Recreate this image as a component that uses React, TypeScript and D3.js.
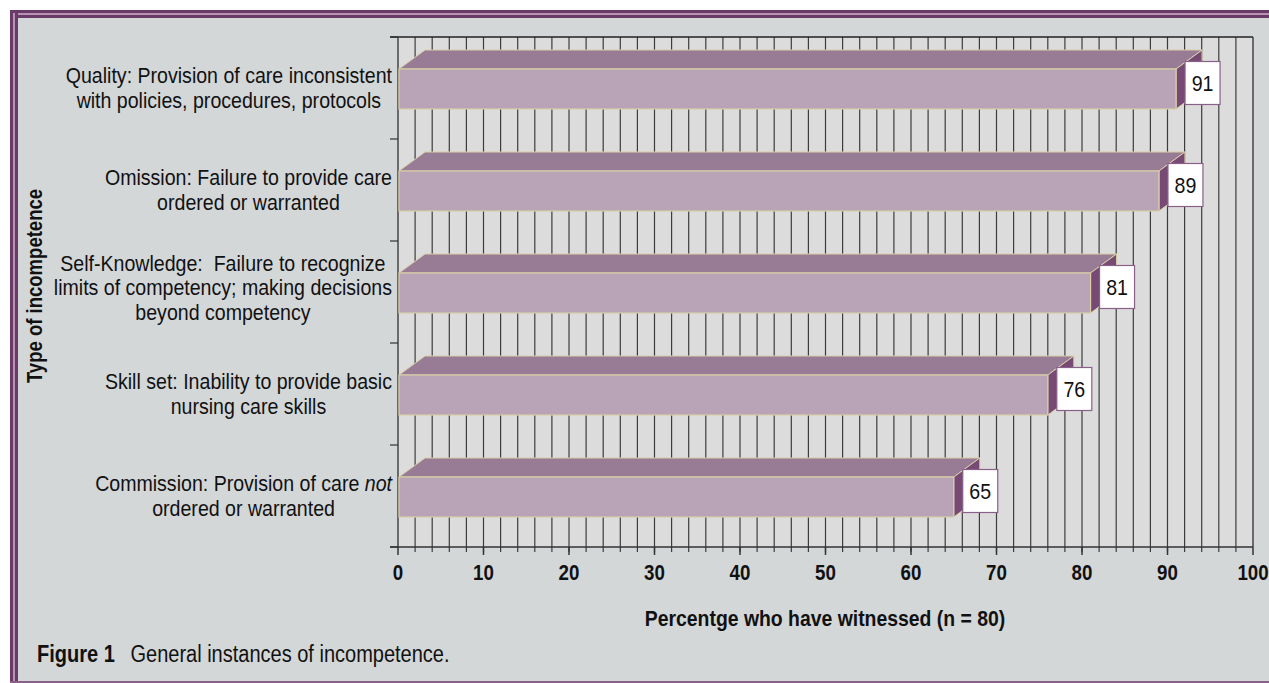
import React, { useEffect, useRef } from "react";
import * as d3 from "d3";

const categoryLines: string[][] = [
  ["Quality: Provision of care inconsistent", "with policies, procedures, protocols"],
  ["Omission: Failure to provide care", "ordered or warranted"],
  ["Self-Knowledge:  Failure to recognize", "limits of competency; making decisions", "beyond competency"],
  ["Skill set: Inability to provide basic", "nursing care skills"],
  ["Commission: Provision of care |not|", "ordered or warranted"],
];
const values: number[] = [91, 89, 81, 76, 65];
const xTicks: number[] = [0, 10, 20, 30, 40, 50, 60, 70, 80, 90, 100];
const gridValues: number[] = d3.range(2, 100, 2);

const W = 1269;
const H = 683;
const FONT = "'Liberation Sans', Arial, sans-serif";
const NARROW = 0.87;

type Sel = d3.Selection<any, unknown, null, undefined>;

function narrowText(parent: Sel, x: number, y: number, size: number, anchor: string, bold = false, rotate = 0) {
  const g = parent.append("g").attr("transform", `translate(${x},${y}) rotate(${rotate}) scale(${NARROW},1)`);
  const t = g.append("text").attr("x", 0).attr("y", 0)
    .attr("text-anchor", anchor).attr("font-family", FONT).attr("font-size", size)
    .attr("font-weight", bold ? "bold" : "normal").attr("fill", "#111")
    .style("white-space", "pre");
  return { g, t };
}

export default function App() {
  const ref = useRef<SVGSVGElement>(null);

  useEffect(() => {
    const svg = d3.select(ref.current) as unknown as Sel;
    svg.selectAll("*").remove();

    const left = 398, right = 1253, top = 37, bottom = 547;
    const x = d3.scaleLinear().domain([0, 100]).range([left, right]);
    const y = d3.scaleBand<number>().domain(d3.range(values.length)).range([top, bottom]);

    // background
    svg.append("rect").attr("x", 0).attr("y", 0).attr("width", W).attr("height", H).attr("fill", "#ffffff");
    svg.append("rect").attr("x", 10).attr("y", 10).attr("width", W - 10).attr("height", 672).attr("fill", "#d4d7d8");
    // frame
    const frame = svg.append("g");
    frame.append("rect").attr("x", 10).attr("y", 10).attr("width", W - 10).attr("height", 8).attr("fill", "#6a3a68");
    frame.append("rect").attr("x", 13).attr("y", 13).attr("width", W - 13).attr("height", 2).attr("fill", "#b792b3");
    frame.append("rect").attr("x", 10).attr("y", 10).attr("width", 8).attr("height", 672).attr("fill", "#6a3a68");
    frame.append("rect").attr("x", 13).attr("y", 13).attr("width", 2).attr("height", 669).attr("fill", "#b792b3");
    frame.append("rect").attr("x", 10).attr("y", 681).attr("width", W - 10).attr("height", 2).attr("fill", "#8a5f88");

    // plot area
    svg.append("rect").attr("x", left).attr("y", top).attr("width", right - left).attr("height", bottom - top).attr("fill", "#dcdcdc");

    // gridlines
    svg.append("g").selectAll("line").data(gridValues).join("line")
      .attr("x1", d => x(d)).attr("x2", d => x(d))
      .attr("y1", top).attr("y2", bottom + 5)
      .attr("stroke", "#3c3c3c").attr("stroke-width", 1.2);

    // plot border top/right
    svg.append("line").attr("x1", left - 8).attr("x2", right).attr("y1", top).attr("y2", top).attr("stroke", "#222").attr("stroke-width", 1.5);
    svg.append("line").attr("x1", right).attr("x2", right).attr("y1", top).attr("y2", bottom).attr("stroke", "#444").attr("stroke-width", 1.5);
    // y axis
    svg.append("line").attr("x1", left).attr("x2", left).attr("y1", top).attr("y2", bottom).attr("stroke", "#444").attr("stroke-width", 1.5);
    const yTickPos = d3.range(values.length + 1).map(i => top + i * y.step());
    svg.append("g").selectAll("line").data(yTickPos).join("line")
      .attr("x1", left - 8).attr("x2", left).attr("y1", d => d).attr("y2", d => d)
      .attr("stroke", "#333").attr("stroke-width", 1.2);
    // x axis
    svg.append("line").attr("x1", left - 8).attr("x2", right).attr("y1", bottom).attr("y2", bottom).attr("stroke", "#333").attr("stroke-width", 1.5);
    svg.append("g").selectAll("line").data(xTicks).join("line")
      .attr("x1", d => x(d)).attr("x2", d => x(d)).attr("y1", bottom).attr("y2", bottom + 8)
      .attr("stroke", "#333").attr("stroke-width", 1.5);
    const tickG = svg.append("g");
    xTicks.forEach(d => {
      narrowText(tickG, x(d), bottom + 33, 21.5, "middle", true).t.text(String(d));
    });

    // bars
    const dx = 26, dy = 19, faceH = 40;
    const bars = svg.append("g");
    values.forEach((v, i) => {
      const cy = (y(i) as number) + y.bandwidth() / 2;
      const t = cy - 19;
      const b = t + faceH;
      const x0 = x(0) + 1;
      const xv = x(v);
      bars.append("polygon")
        .attr("points", [[x0, t], [x0 + dx, t - dy], [xv + dx, t - dy], [xv, t]].map(p => p.join(",")).join(" "))
        .attr("fill", "#987c96").attr("stroke", "#d8cfa6").attr("stroke-width", 1);
      bars.append("polygon")
        .attr("points", [[xv, t], [xv + dx, t - dy], [xv + dx, b - dy], [xv, b]].map(p => p.join(",")).join(" "))
        .attr("fill", "#774a75").attr("stroke", "#d8cfa6").attr("stroke-width", 1);
      bars.append("rect").attr("x", x0).attr("y", t).attr("width", xv - x0).attr("height", faceH)
        .attr("fill", "#b8a4b6").attr("stroke", "#d8cfa6").attr("stroke-width", 1.2);
      // label box
      const bx = xv + 9, by = t - 7.5;
      bars.append("rect").attr("x", bx).attr("y", by).attr("width", 35).attr("height", 43)
        .attr("fill", "#ffffff").attr("stroke", "#8a5f88").attr("stroke-width", 1.2);
      narrowText(bars, bx + 17.5, by + 29.5, 22.5, "middle").t.text(String(v));
    });

    // category labels
    const labelRight = 392;
    const lineH = 24.5;
    categoryLines.forEach((lines, i) => {
      const center = (y(i) as number) + y.bandwidth() / 2;
      const n = lines.length;
      const items = lines.map((ln, j) => {
        const yy = center + 7.5 - (n - 2) * 4.5 + (j - (n - 1) / 2) * lineH;
        const item = narrowText(svg, 0, yy, 22.5, "middle");
        ln.split("|").forEach((part, k) => {
          if (part.length === 0) return;
          item.t.append("tspan").attr("font-style", k % 2 === 1 ? "italic" : "normal").text(part);
        });
        return { ...item, yy };
      });
      const widths = items.map(it => (it.t.node() as SVGTextElement).getComputedTextLength() * NARROW);
      const maxW = d3.max(widths) || 0;
      items.forEach(it => it.g.attr("transform", `translate(${labelRight - maxW / 2},${it.yy}) scale(${NARROW},1)`));
    });

    // axis titles
    narrowText(svg, 825, 625.5, 22.3, "middle", true).t.text("Percentge who have witnessed (n = 80)");
    narrowText(svg, 42, 286, 21.3, "middle", true, -90).t.text("Type of incompetence");

    // caption
    const cap = narrowText(svg, 37, 661.5, 23, "start");
    cap.t.append("tspan").attr("font-weight", "bold").text("Figure 1");
    cap.t.append("tspan").attr("dx", 18).text("General instances of incompetence.");
  }, []);

  return (
    <svg ref={ref} width={W} height={H} style={{ position: "absolute", left: 0, top: 0, display: "block" }} />
  );
}
